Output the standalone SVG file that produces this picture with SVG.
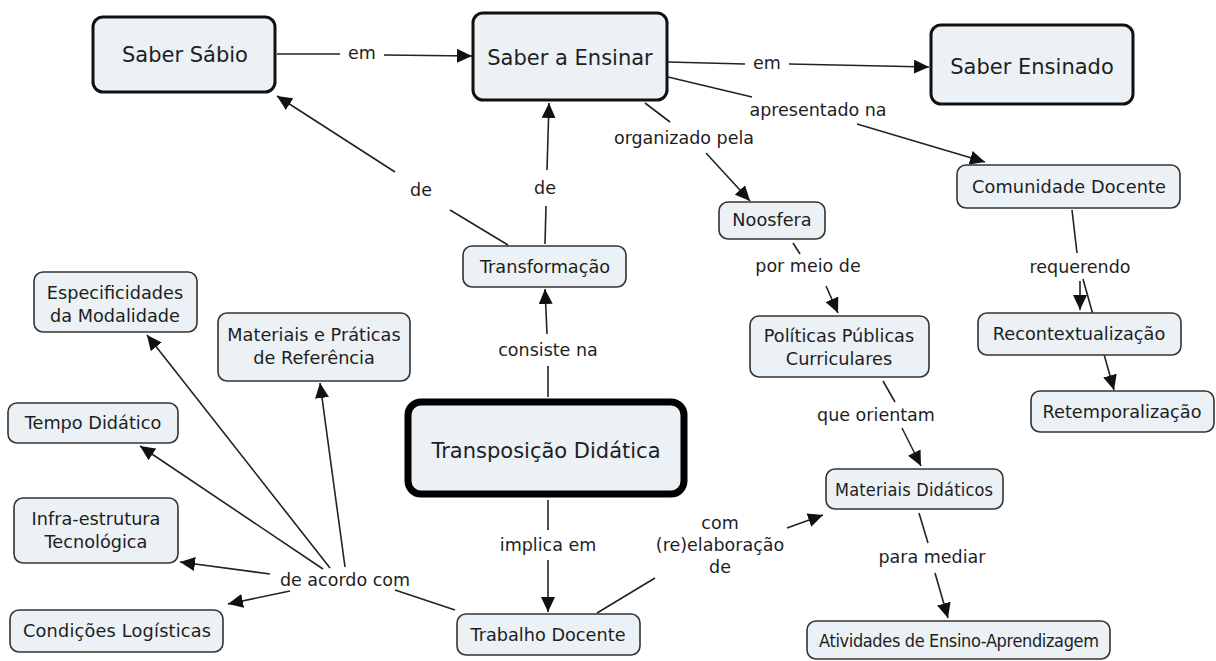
<svg xmlns="http://www.w3.org/2000/svg" width="1216" height="661" viewBox="0 0 1216 661">
<style>
text{font-family:"DejaVu Sans","Liberation Sans",sans-serif;fill:#1e1e1e;text-anchor:middle;dominant-baseline:central}
.n rect{fill:#ebf1f5;stroke:#333;stroke-width:1.6}
.n text{font-size:17.7px}
.n text.nc{font-family:"DejaVu Sans Condensed","DejaVu Sans",sans-serif;font-size:18px}
.b rect{fill:#ebf1f5;stroke:#111;stroke-width:3}
.b text{font-size:21px}
.t rect{fill:#ebf1f5;stroke:#000;stroke-width:7}
.t text{font-size:21px}
.c path{fill:none;stroke:#222;stroke-width:1.6}
.c text{font-size:17.5px}
</style>
<defs>
<marker id="ar" markerUnits="userSpaceOnUse" markerWidth="16" markerHeight="14" refX="15" refY="7" orient="auto">
<path d="M0,0 L15,7 L0,14 z" fill="#111"/>
</marker>
</defs>
<rect width="1216" height="661" fill="#fff"/>

<g class="c" id="connectors">
<path d="M277,54 L340,54"/><text x="362" y="53">em</text><path d="M384,55 L472,56" marker-end="url(#ar)"/>
<path d="M668,62 L745,64"/><text x="767" y="63">em</text><path d="M789,64 L929,67" marker-end="url(#ar)"/>
<path d="M668,77 L752,97"/><text x="818" y="110">apresentado na</text><path d="M857,124 L985,162" marker-end="url(#ar)"/>
<path d="M645,103 L670,122"/><text x="684" y="138">organizado pela</text><path d="M706,153 L750,201" marker-end="url(#ar)"/>
<path d="M793,243 L800,254"/><text x="808" y="266">por meio de</text><path d="M826,286 L838,313" marker-end="url(#ar)"/>
<path d="M883,381 L895,402"/><text x="876" y="415">que orientam</text><path d="M902,428 L921,466" marker-end="url(#ar)"/>
<path d="M1072,210 L1077,253"/><text x="1080" y="267">requerendo</text><path d="M1080,281 L1080,310" marker-end="url(#ar)"/>
<path d="M1083,279 L1114,390" marker-end="url(#ar)"/>
<path d="M508,245 L450,210"/><text x="421" y="190">de</text><path d="M395,172 L277,96" marker-end="url(#ar)"/>
<path d="M545,244 L546,206"/><text x="545" y="188">de</text><path d="M547,170 L549,103" marker-end="url(#ar)"/>
<path d="M548,397 L548,366"/><text x="548" y="350">consiste na</text><path d="M547,334 L545,289" marker-end="url(#ar)"/>
<path d="M548,500 L548,530"/><text x="548" y="545">implica em</text><path d="M548,560 L548,612" marker-end="url(#ar)"/>
<path d="M597,613 L655,578"/><text x="720" y="523">com</text><text x="720" y="545">(re)elaboração</text><text x="720" y="567">de</text><path d="M787,528 L823,515" marker-end="url(#ar)"/>
<path d="M919,513 L928,543"/><text x="932" y="557">para mediar</text><path d="M935,573 L948,618" marker-end="url(#ar)"/>
<path d="M455,610 L395,590"/><text x="345" y="580">de acordo com</text>
<path d="M330,568 L147,335" marker-end="url(#ar)"/>
<path d="M345,567 L320,383" marker-end="url(#ar)"/>
<path d="M323,569 L140,446" marker-end="url(#ar)"/>
<path d="M270,574 L180,562" marker-end="url(#ar)"/>
<path d="M290,591 L228,604" marker-end="url(#ar)"/>
</g>

<g id="saber-sabio" class="b"><rect x="93" y="17" width="182" height="75" rx="10"/><text x="185" y="55">Saber Sábio</text></g>
<g id="saber-a-ensinar" class="b"><rect x="473" y="13" width="194" height="87" rx="10"/><text x="570" y="58">Saber a Ensinar</text></g>
<g id="saber-ensinado" class="b"><rect x="931" y="25" width="202" height="79" rx="10"/><text x="1032" y="67">Saber Ensinado</text></g>
<g id="comunidade-docente" class="n"><rect x="957" y="165" width="223" height="43" rx="9"/><text x="1069" y="187" textLength="194">Comunidade Docente</text></g>
<g id="noosfera" class="n"><rect x="719" y="202" width="106" height="37" rx="9"/><text x="772" y="220">Noosfera</text></g>
<g id="transformacao" class="n"><rect x="463" y="246" width="163" height="41" rx="9"/><text x="545" y="267">Transformação</text></g>
<g id="especificidades" class="n"><rect x="34" y="272" width="163" height="60" rx="9"/><text x="115" y="293">Especificidades</text><text x="115" y="316">da Modalidade</text></g>
<g id="materiais-praticas" class="n"><rect x="218" y="313" width="192" height="68" rx="9"/><text x="314" y="335">Materiais e Práticas</text><text x="314" y="358">de Referência</text></g>
<g id="politicas" class="n"><rect x="750" y="316" width="179" height="61" rx="9"/><text x="839" y="336">Políticas Públicas</text><text x="839" y="359">Curriculares</text></g>
<g id="recontextualizacao" class="n"><rect x="978" y="313" width="203" height="42" rx="9"/><text x="1079" y="334">Recontextualização</text></g>
<g id="retemporalizacao" class="n"><rect x="1031" y="391" width="183" height="41" rx="9"/><text x="1122" y="412">Retemporalização</text></g>
<g id="tempo-didatico" class="n"><rect x="8" y="403" width="170" height="40" rx="9"/><text x="93" y="423">Tempo Didático</text></g>
<g id="transposicao" class="t"><rect x="408" y="402" width="276" height="92" rx="13"/><text x="546" y="451">Transposição Didática</text></g>
<g id="materiais-didaticos" class="n"><rect x="826" y="469" width="177" height="40" rx="9"/><text class="nc" x="914" y="489" textLength="158">Materiais Didáticos</text></g>
<g id="infra" class="n"><rect x="14" y="498" width="164" height="65" rx="9"/><text x="96" y="519">Infra-estrutura</text><text x="96" y="542">Tecnológica</text></g>
<g id="condicoes" class="n"><rect x="10" y="610" width="213" height="42" rx="9"/><text x="117" y="631" textLength="188">Condições Logísticas</text></g>
<g id="trabalho-docente" class="n"><rect x="457" y="614" width="183" height="41" rx="9"/><text x="548" y="635">Trabalho Docente</text></g>
<g id="atividades" class="n"><rect x="807" y="621" width="303" height="38" rx="9"/><text class="nc" x="959" y="640" textLength="280">Atividades de Ensino-Aprendizagem</text></g>
</svg>
